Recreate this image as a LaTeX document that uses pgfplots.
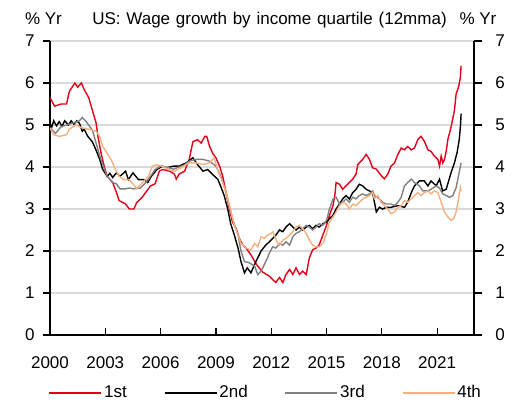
\documentclass[border=0pt]{standalone}
\usepackage{fontspec}
\setmainfont{Liberation Sans}
\usepackage{pgfplots}
\pgfplotsset{compat=1.18}
\definecolor{jred}{RGB}{226,0,26}
\definecolor{jgray}{RGB}{128,128,128}
\definecolor{jorange}{RGB}{246,176,128}
\definecolor{gridc}{RGB}{217,217,217}
\begin{document}
\fontsize{17}{20}\selectfont
\begin{tikzpicture}
\pgfplotsset{
  base/.style={
    scale only axis, width=424pt, height=294pt,
    xmin=2000, xmax=2023, ymin=0, ymax=7,
    at={(0pt,0pt)}, anchor=south west,
    /pgf/number format/assume math mode=true,
    /pgf/number format/1000 sep={},
    ticklabel style={font=\fontsize{17}{20}\selectfont},
    axis line style={line width=1.2pt},
    major tick style={line width=1.2pt, black},
    major tick length=7.5pt,
    ytick={0,1,...,7},
  }
}
\begin{axis}[base,
  axis x line*=bottom, axis y line*=left,
  xtick={2000,2003,...,2021},
  xtick align=inside, ytick align=outside,
  xticklabel style={yshift=-16pt},
  yticklabel style={xshift=-2pt},
  ymajorgrids, grid style={gridc, line width=1.5pt},
  legend columns=4,
  legend style={at={(0.509,-0.197)}, anchor=center, draw=none, fill=none,
    font=\fontsize{17}{20}\selectfont,
    /tikz/every even column/.append style={column sep=35pt}},
  legend image code/.code={\draw[#1, line width=1.5pt] (0pt,0pt) -- (52pt,0pt);},
  every axis plot/.append style={line width=1.4pt},
]
\addplot[jred] coordinates {
(2000.0,5.65)(2000.25,5.45)(2000.6,5.5)(2000.9,5.5)(2001.05,5.8)(2001.2,5.9)(2001.35,6.0)(2001.5,5.9)(2001.7,6.0)(2001.85,5.85)
(2002.1,5.65)(2002.3,5.35)(2002.5,5.05)(2002.6,4.73)(2002.77,4.33)(2002.95,4.0)(2003.1,3.78)(2003.4,3.63)(2003.6,3.4)(2003.75,3.2)
(2004.1,3.12)(2004.3,3.0)(2004.55,3.0)(2004.7,3.15)(2005.0,3.28)(2005.2,3.4)(2005.45,3.55)(2005.7,3.6)(2005.93,3.9)(2006.1,3.94)
(2006.5,3.9)(2006.75,3.83)(2006.85,3.71)(2007.0,3.83)(2007.3,3.9)(2007.55,4.18)(2007.75,4.6)(2008.0,4.65)(2008.2,4.57)(2008.4,4.73)
(2008.5,4.73)(2008.65,4.5)(2008.82,4.33)(2009.0,4.22)(2009.2,4.02)(2009.37,3.78)(2009.55,3.39)(2009.73,3.0)(2009.9,2.69)(2010.1,2.53)
(2010.27,2.3)(2010.45,2.14)(2010.63,2.07)(2010.9,1.91)(2011.2,1.68)(2011.53,1.5)(2011.9,1.4)(2012.08,1.32)(2012.25,1.25)(2012.45,1.37)
(2012.63,1.25)(2012.8,1.44)(2013.0,1.56)(2013.17,1.44)(2013.35,1.6)(2013.53,1.44)(2013.7,1.52)(2013.9,1.44)(2014.0,1.68)(2014.07,1.84)
(2014.25,2.03)(2014.43,2.07)(2014.6,2.14)(2014.8,2.38)(2015.0,2.61)(2015.16,2.85)(2015.35,3.08)(2015.45,3.32)(2015.52,3.63)(2015.7,3.59)
(2015.88,3.47)(2016.06,3.55)(2016.24,3.63)(2016.42,3.71)(2016.6,3.83)(2016.7,4.06)(2016.78,4.1)(2016.96,4.18)(2017.15,4.3)(2017.33,4.18)
(2017.5,3.98)(2017.7,3.95)(2017.96,3.8)(2018.14,3.72)(2018.32,3.83)(2018.5,4.02)(2018.69,4.1)(2018.87,4.3)(2019.05,4.45)(2019.23,4.41)
(2019.4,4.49)(2019.59,4.41)(2019.77,4.45)(2019.95,4.65)(2020.13,4.73)(2020.31,4.61)(2020.5,4.41)(2020.67,4.37)(2020.85,4.26)(2021.04,4.18)
(2021.13,4.02)(2021.22,4.26)(2021.31,4.1)(2021.4,4.18)(2021.49,4.37)(2021.58,4.65)(2021.76,4.96)(2021.94,5.35)(2022.03,5.74)(2022.16,5.9)
(2022.26,6.13)(2022.3,6.41)
};
\addlegendentry{1st}
\addplot[black] coordinates {
(2000.0,5.04)(2000.1,4.95)(2000.2,5.1)(2000.35,4.98)(2000.5,5.08)(2000.65,4.97)(2000.8,5.1)(2001.0,5.0)(2001.15,5.1)(2001.3,5.02)
(2001.45,5.1)(2001.6,5.04)(2001.75,4.85)(2001.85,4.9)(2002.05,4.73)(2002.3,4.6)(2002.5,4.4)(2002.7,4.18)(2002.85,3.95)(2003.1,3.78)
(2003.25,3.85)(2003.4,3.75)(2003.6,3.86)(2003.8,3.78)(2004.1,3.9)(2004.25,3.7)(2004.5,3.86)(2004.65,3.78)(2004.8,3.7)(2005.1,3.7)
(2005.3,3.63)(2005.5,3.78)(2005.8,3.94)(2006.1,4.02)(2006.3,3.98)(2006.7,4.02)(2007.0,4.02)(2007.4,4.1)(2007.75,4.22)(2008.0,4.06)
(2008.3,3.9)(2008.55,3.94)(2008.8,3.83)(2009.1,3.71)(2009.25,3.55)(2009.45,3.32)(2009.64,3.0)(2009.8,2.65)(2010.0,2.38)(2010.2,2.07)
(2010.36,1.75)(2010.55,1.48)(2010.7,1.6)(2010.9,1.48)(2011.1,1.68)(2011.27,1.84)(2011.45,2.0)(2011.7,2.14)(2011.9,2.22)(2012.08,2.3)
(2012.25,2.38)(2012.45,2.5)(2012.63,2.46)(2012.8,2.57)(2013.0,2.65)(2013.17,2.57)(2013.35,2.5)(2013.53,2.57)(2013.7,2.5)(2013.9,2.57)
(2014.07,2.61)(2014.25,2.53)(2014.43,2.61)(2014.6,2.57)(2014.8,2.65)(2015.0,2.69)(2015.16,2.77)(2015.35,2.85)(2015.52,3.0)(2015.7,3.12)
(2015.88,3.24)(2016.06,3.32)(2016.24,3.24)(2016.42,3.39)(2016.6,3.47)(2016.78,3.59)(2016.96,3.55)(2017.15,3.47)(2017.33,3.43)(2017.5,3.39)
(2017.7,2.93)(2017.87,3.04)(2018.05,3.0)(2018.23,3.04)(2018.5,3.04)(2018.87,3.08)(2019.23,3.04)(2019.4,3.16)(2019.6,3.39)(2019.77,3.55)
(2020.04,3.67)(2020.3,3.67)(2020.5,3.55)(2020.67,3.67)(2020.95,3.55)(2021.13,3.71)(2021.3,3.43)(2021.49,3.47)(2021.6,3.63)(2021.76,3.87)
(2021.94,4.1)(2022.08,4.34)(2022.2,4.65)(2022.27,5.0)(2022.3,5.27)
};
\addlegendentry{2nd}
\addplot[jgray] coordinates {
(2000.0,4.93)(2000.3,4.8)(2000.6,4.96)(2000.9,5.0)(2001.2,5.04)(2001.6,5.1)(2001.75,5.18)(2002.0,5.06)(2002.3,4.88)(2002.5,4.57)
(2002.7,4.26)(2002.95,3.95)(2003.1,3.78)(2003.4,3.63)(2003.6,3.6)(2003.8,3.48)(2004.1,3.48)(2004.3,3.5)(2004.55,3.48)(2004.9,3.5)
(2005.2,3.63)(2005.45,3.78)(2005.7,3.94)(2006.0,4.02)(2006.3,4.0)(2006.7,3.95)(2007.0,4.0)(2007.3,4.05)(2007.55,4.14)(2007.9,4.18)
(2008.3,4.18)(2008.65,4.14)(2009.0,4.02)(2009.27,3.78)(2009.55,3.39)(2009.73,3.08)(2009.9,2.77)(2010.2,2.38)(2010.36,2.0)(2010.55,1.75)
(2010.8,1.72)(2011.1,1.64)(2011.27,1.44)(2011.45,1.52)(2011.63,1.68)(2011.8,1.84)(2011.9,1.95)(2012.08,2.1)(2012.25,2.07)(2012.45,2.18)
(2012.63,2.14)(2012.8,2.22)(2013.0,2.14)(2013.17,2.34)(2013.35,2.42)(2013.53,2.46)(2013.7,2.53)(2013.9,2.61)(2014.07,2.57)(2014.25,2.5)
(2014.43,2.57)(2014.6,2.65)(2014.8,2.61)(2015.0,2.73)(2015.16,3.0)(2015.35,3.24)(2015.52,3.28)(2015.7,3.12)(2015.88,3.16)(2016.06,3.24)
(2016.24,3.16)(2016.42,3.28)(2016.6,3.24)(2016.78,3.32)(2016.96,3.36)(2017.15,3.32)(2017.33,3.36)(2017.5,3.43)(2017.6,3.32)(2017.87,3.24)
(2018.05,3.16)(2018.23,3.12)(2018.5,3.12)(2018.69,3.08)(2018.87,3.16)(2019.05,3.28)(2019.23,3.55)(2019.4,3.63)(2019.6,3.71)(2019.77,3.63)
(2020.04,3.55)(2020.22,3.43)(2020.5,3.43)(2020.67,3.47)(2020.95,3.55)(2021.13,3.5)(2021.3,3.36)(2021.5,3.32)(2021.67,3.28)(2021.85,3.32)
(2022.03,3.51)(2022.16,3.79)(2022.3,4.1)
};
\addlegendentry{3rd}
\addplot[jorange] coordinates {
(2000.0,4.93)(2000.2,4.77)(2000.5,4.73)(2000.9,4.77)(2001.05,4.9)(2001.4,5.0)(2001.75,4.93)(2002.1,4.9)(2002.5,4.85)(2002.7,4.73)
(2002.85,4.5)(2003.0,4.4)(2003.2,4.26)(2003.4,4.1)(2003.55,3.94)(2003.75,3.78)(2004.0,3.7)(2004.3,3.7)(2004.5,3.6)(2004.7,3.48)
(2004.85,3.55)(2005.1,3.67)(2005.35,3.78)(2005.55,4.02)(2005.8,4.05)(2006.1,4.02)(2006.4,3.94)(2006.75,3.9)(2007.1,3.98)(2007.55,4.1)
(2007.9,4.1)(2008.3,4.06)(2008.65,4.1)(2008.9,4.22)(2009.15,3.86)(2009.37,3.63)(2009.55,3.39)(2009.73,3.08)(2010.0,2.61)(2010.2,2.38)
(2010.36,2.18)(2010.63,2.07)(2010.9,2.03)(2011.1,2.18)(2011.27,2.1)(2011.45,2.34)(2011.63,2.3)(2011.8,2.38)(2012.0,2.42)(2012.1,2.46)
(2012.2,2.34)(2012.3,2.22)(2012.45,2.14)(2012.63,2.26)(2012.8,2.3)(2013.0,2.38)(2013.17,2.46)(2013.35,2.57)(2013.53,2.61)(2013.7,2.53)
(2013.9,2.42)(2014.07,2.26)(2014.25,2.14)(2014.43,2.1)(2014.6,2.1)(2014.8,2.18)(2015.0,2.42)(2015.16,2.69)(2015.35,2.81)(2015.52,2.93)
(2015.7,3.08)(2015.88,3.16)(2016.06,3.12)(2016.24,3.0)(2016.42,3.12)(2016.6,3.08)(2016.78,3.16)(2016.96,3.24)(2017.15,3.28)(2017.33,3.32)
(2017.5,3.39)(2017.6,3.24)(2017.78,3.32)(2017.96,3.16)(2018.14,3.08)(2018.32,3.0)(2018.5,2.89)(2018.69,2.93)(2018.87,3.04)(2019.05,3.08)
(2019.23,3.2)(2019.4,3.16)(2019.6,3.24)(2019.77,3.32)(2019.95,3.39)(2020.13,3.32)(2020.31,3.39)(2020.5,3.43)(2020.67,3.36)(2020.85,3.43)
(2021.04,3.39)(2021.22,3.16)(2021.4,2.93)(2021.58,2.81)(2021.76,2.73)(2021.9,2.77)(2022.03,2.93)(2022.16,3.24)(2022.26,3.51)(2022.3,3.43)
};
\addlegendentry{4th}
\end{axis}
\begin{axis}[base,
  axis x line=none, axis y line*=right,
  ytick align=outside,
  yticklabel style={xshift=8pt},
]
\end{axis}
\node[anchor=base] at (219.5pt,310pt) {\fontsize{17}{20}\selectfont\spaceskip=5.8pt plus 1pt US: Wage growth by income quartile (12mma)};
\node[anchor=base] at (-6.5pt,310pt) {\% Yr};
\node[anchor=base] at (428pt,310pt) {\% Yr};
\pgfresetboundingbox
\path[use as bounding box] (-50pt,-73pt) rectangle (464pt,335pt);
\end{tikzpicture}
\end{document}
